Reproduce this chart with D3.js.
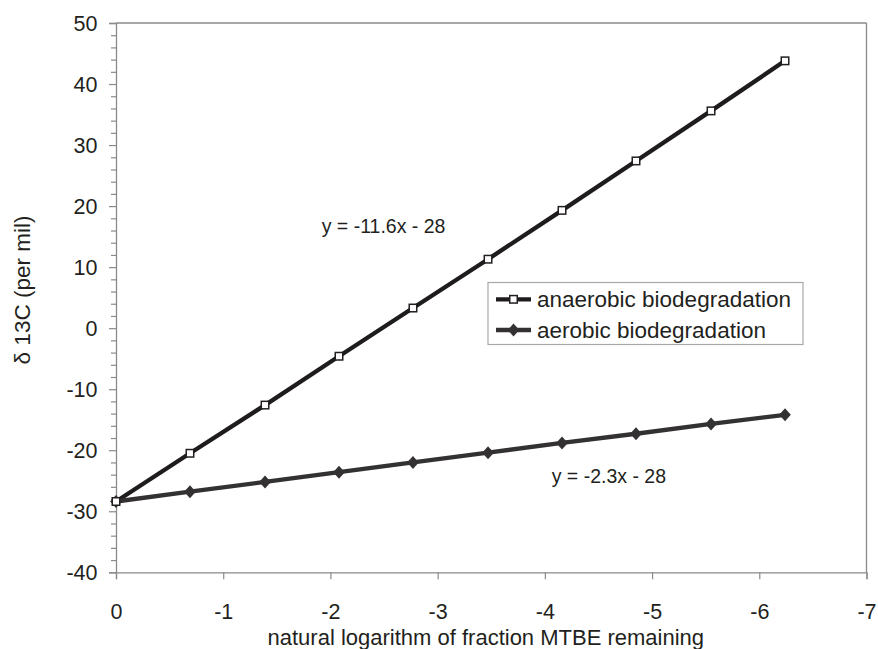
<!DOCTYPE html>
<html>
<head>
<meta charset="utf-8">
<script src="https://cdn.jsdelivr.net/npm/d3@7"></script>
<style>
  html, body { margin: 0; padding: 0; background: #ffffff; }
  svg { display: block; }
  text { font-family: "Liberation Sans", Arial, sans-serif; fill: #231f20; }
</style>
</head>
<body>
<script>
// ---- data ----
const lnFraction = [0, -0.69, -1.39, -2.08, -2.77, -3.47, -4.16, -4.85, -5.55, -6.24];
const anaerobic = [-28.4, -20.5, -12.6, -4.6, 3.3, 11.3, 19.3, 27.4, 35.6, 43.8];
const aerobic = [-28.4, -26.8, -25.2, -23.6, -22.0, -20.4, -18.8, -17.3, -15.7, -14.2];
const seriesNames = ["anaerobic biodegradation", "aerobic biodegradation"];
const xTicks = [0, -1, -2, -3, -4, -5, -6, -7];
const yTicks = [-40, -30, -20, -10, 0, 10, 20, 30, 40, 50];
const yMinorTicks = [-38, -36, -34, -32, -28, -26, -24, -22, -18, -16, -14, -12, -8, -6, -4, -2,
  2, 4, 6, 8, 12, 14, 16, 18, 22, 24, 26, 28, 32, 34, 36, 38, 42, 44, 46, 48];
const equations = ["y = -11.6x - 28", "y = -2.3x - 28"];
const xTitle = "natural logarithm of fraction MTBE remaining";
const yTitle = "\u03b4 13C (per mil)";

// ---- layout ----
const W = 878, H = 649;
const L = 116, R = 866.5, T = 23, B = 572.3;
const axisColor = "#8a8a8a";
const ink = "#231f20";

const svg = d3.select("body").append("svg").attr("width", W).attr("height", H);
svg.append("rect").attr("width", W).attr("height", H).attr("fill", "#fff");

const x = d3.scaleLinear().domain([0, -7]).range([L, R]);
const y = d3.scaleLinear().domain([-40, 50]).range([B, T]);

// plot border (top & right)
svg.append("line").attr("x1", L).attr("x2", R).attr("y1", T).attr("y2", T)
  .attr("stroke", axisColor).attr("stroke-width", 1.3);
svg.append("line").attr("x1", R).attr("x2", R).attr("y1", T).attr("y2", B)
  .attr("stroke", axisColor).attr("stroke-width", 1.3);

// minor y ticks
const yMinor = svg.append("g").attr("transform", `translate(${L},0)`)
  .call(d3.axisLeft(y).tickValues(yMinorTicks).tickSize(5).tickFormat(""));
yMinor.select(".domain").remove();
yMinor.selectAll("line").attr("stroke", axisColor).attr("stroke-width", 1.2);

// major y axis
const yAxis = svg.append("g").attr("transform", `translate(${L},0)`)
  .call(d3.axisLeft(y).tickValues(yTicks).tickSize(7).tickPadding(11.5).tickFormat(d => String(d)));
yAxis.select(".domain").attr("stroke", axisColor).attr("stroke-width", 1.3);
yAxis.selectAll("line").attr("stroke", axisColor).attr("stroke-width", 1.2);
yAxis.selectAll("text").attr("font-size", 21.5).attr("fill", ink)
  .attr("font-family", '"Liberation Sans", Arial, sans-serif').attr("dy", "0.35em");

// x axis
const xAxis = svg.append("g").attr("transform", `translate(0,${B})`)
  .call(d3.axisBottom(x).tickValues(xTicks).tickSize(7).tickPadding(24.4).tickFormat(d => String(d)));
xAxis.select(".domain").attr("stroke", axisColor).attr("stroke-width", 1.3);
xAxis.selectAll("line").attr("stroke", axisColor).attr("stroke-width", 1.2);
xAxis.selectAll("text").attr("font-size", 21.5).attr("fill", ink)
  .attr("font-family", '"Liberation Sans", Arial, sans-serif').attr("dy", "0.71em");

// axis titles
svg.append("text").attr("x", (253.3 + 718.3) / 2).attr("y", 644.5)
  .attr("text-anchor", "middle").attr("font-size", 22).text(xTitle);
svg.append("text").attr("transform", `translate(30,290) rotate(-90)`)
  .attr("text-anchor", "middle").attr("font-size", 22.5).text(yTitle);

// lines
const pts = (vals) => lnFraction.map((lx, i) => [lx, vals[i]]);
const line = d3.line().x(d => x(d[0])).y(d => y(d[1]));

svg.append("path").datum(pts(anaerobic)).attr("d", line)
  .attr("fill", "none").attr("stroke", "#1f1c1d").attr("stroke-width", 4.3);
svg.append("path").datum(pts(aerobic)).attr("d", line)
  .attr("fill", "none").attr("stroke", "#333132").attr("stroke-width", 4.3);

// markers
const diamond = (cx, cy, hw, hh) => `M${cx},${cy - hh}L${cx + hw},${cy}L${cx},${cy + hh}L${cx - hw},${cy}Z`;
svg.append("g").selectAll("path").data(pts(aerobic)).join("path")
  .attr("d", d => diamond(x(d[0]), y(d[1]), 5.8, 6.5))
  .attr("fill", "#333132");
const sq = 7.5;
svg.append("g").selectAll("rect").data(pts(anaerobic)).join("rect")
  .attr("x", d => x(d[0]) - sq / 2).attr("y", d => y(d[1]) - sq / 2)
  .attr("width", sq).attr("height", sq)
  .attr("fill", "#fff").attr("stroke", "#231f20").attr("stroke-width", 1.5);

// equations
svg.append("text").attr("x", 321.7).attr("y", 233).attr("font-size", 19.5).text(equations[0]);
svg.append("text").attr("x", 551.7).attr("y", 483).attr("font-size", 19.5).text(equations[1]);

// legend
const lg = svg.append("g");
lg.append("rect").attr("x", 488).attr("y", 282.5).attr("width", 315).attr("height", 62)
  .attr("fill", "#fff").attr("stroke", "#a8a8a8").attr("stroke-width", 1.2);
const rowY = [299.3, 330];
lg.append("line").attr("x1", 496).attr("x2", 531).attr("y1", rowY[0]).attr("y2", rowY[0])
  .attr("stroke", "#1f1c1d").attr("stroke-width", 4.3);
lg.append("rect").attr("x", 513.5 - sq / 2).attr("y", rowY[0] - sq / 2).attr("width", sq).attr("height", sq)
  .attr("fill", "#fff").attr("stroke", "#231f20").attr("stroke-width", 1.5);
lg.append("line").attr("x1", 496).attr("x2", 531).attr("y1", rowY[1]).attr("y2", rowY[1])
  .attr("stroke", "#333132").attr("stroke-width", 4.3);
lg.append("path").attr("d", diamond(513.5, rowY[1], 5.8, 6.5)).attr("fill", "#333132");
lg.selectAll("text.lab").data(seriesNames).join("text").attr("class", "lab")
  .attr("x", 537).attr("y", (d, i) => rowY[i] + 7.5)
  .attr("font-size", 22.5).text(d => d);
</script>
</body>
</html>
